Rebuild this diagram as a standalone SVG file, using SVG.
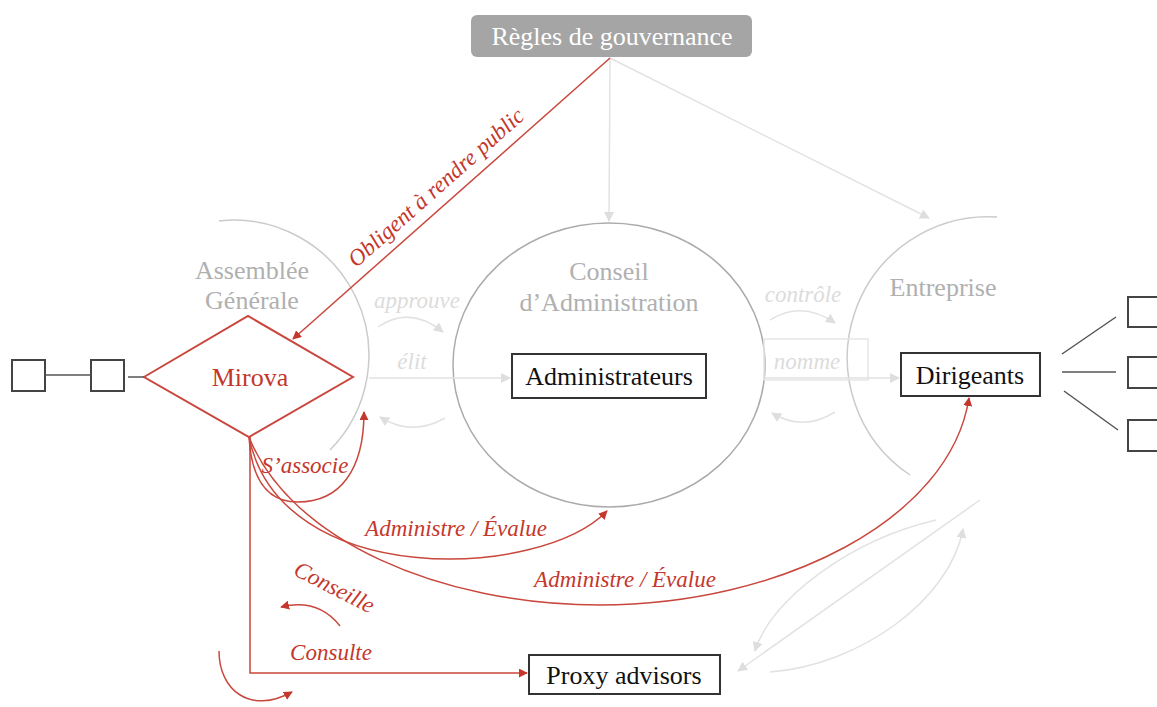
<svg xmlns="http://www.w3.org/2000/svg" width="1157" height="707" viewBox="0 0 1157 707">
<style>
text{font-family:"Liberation Serif","Times New Roman",serif}
.box{fill:#fff;stroke:#333;stroke-width:2}
.sm{fill:#fff;stroke:#444;stroke-width:2}
.lbl{font-size:26px;fill:#111;text-anchor:middle}
.gtitle{font-size:26px;fill:#b0b0b0;text-anchor:middle}
.glab{font-size:23px;font-style:italic;fill:#dcdcdc;text-anchor:middle}
.rlab{font-size:23px;font-style:italic;fill:#c4372c;text-anchor:middle}
.red{fill:none;stroke:#c9473d;stroke-width:1.5}
.gline{fill:none;stroke:#e2e2e2;stroke-width:1.5}
.arc{fill:none;stroke:#cbcbcb;stroke-width:1.5}
.dk{fill:none;stroke:#555;stroke-width:1.5}
</style>
<defs>
<marker id="ra" viewBox="0 0 10 10" refX="9" refY="5" markerWidth="9" markerHeight="9" markerUnits="userSpaceOnUse" orient="auto"><path d="M0,0L10,5L0,10z" fill="#c4372c"/></marker>
<marker id="ga" viewBox="0 0 10 10" refX="9" refY="5" markerWidth="10" markerHeight="10" markerUnits="userSpaceOnUse" orient="auto"><path d="M0,0L10,5L0,10z" fill="#dedede"/></marker>
</defs>

<g id="assemblee">
<path class="arc" d="M219,221 A135,135 0 0 1 330,450"/>
<text class="gtitle" x="252" y="279">Assemblée</text>
<text class="gtitle" x="252" y="309">Générale</text>
</g>
<g id="conseil">
<ellipse cx="609" cy="365" rx="156" ry="142" fill="none" stroke="#ababab" stroke-width="1.5"/>
<text class="gtitle" x="609" y="280">Conseil</text>
<text class="gtitle" x="609" y="311">d’Administration</text>
</g>
<g id="entreprise">
<path class="arc" d="M997,217 A141,141 0 0 0 910,475"/>
<text class="gtitle" x="943" y="296">Entreprise</text>
</g>

<g id="regles">
<rect x="471" y="15" width="281" height="42" rx="6" fill="#a5a5a5"/>
<text x="612" y="45" font-size="26" fill="#fff" text-anchor="middle">Règles de gouvernance</text>
</g>
<g id="mirova">
<polygon points="144,377 248,316 353,377 249,437" fill="#fff" stroke="#c9473d" stroke-width="2"/>
<text x="250" y="386" font-size="26" fill="#c4372c" text-anchor="middle">Mirova</text>
</g>
<g id="administrateurs">
<rect class="box" x="512" y="354" width="194" height="44"/>
<text class="lbl" x="609" y="385">Administrateurs</text>
</g>
<g id="dirigeants">
<rect class="box" x="901" y="353" width="139" height="43"/>
<text class="lbl" x="970" y="384">Dirigeants</text>
</g>
<g id="proxy">
<rect class="box" x="529" y="655" width="191" height="39"/>
<text class="lbl" x="624" y="684">Proxy advisors</text>
</g>
<g id="left1"><rect class="sm" x="12" y="360" width="33" height="31"/></g>
<g id="left2"><rect class="sm" x="91" y="360" width="33" height="31"/></g>
<g id="right1"><rect class="sm" x="1128" y="297" width="40" height="30"/></g>
<g id="right2"><rect class="sm" x="1128" y="357" width="40" height="31"/></g>
<g id="right3"><rect class="sm" x="1128" y="420" width="40" height="31"/></g>

<g id="connectors">
<line class="dk" x1="45" y1="375" x2="91" y2="375"/>
<line class="dk" x1="128" y1="377" x2="144" y2="377"/>
<line class="dk" x1="1062" y1="354" x2="1116" y2="317"/>
<line class="dk" x1="1062" y1="372" x2="1116" y2="372"/>
<line class="dk" x1="1064" y1="391" x2="1118" y2="430"/>

<line class="gline" x1="610" y1="58" x2="609" y2="221" marker-end="url(#ga)"/>
<line class="gline" x1="610" y1="58" x2="929" y2="218" marker-end="url(#ga)"/>
<line class="gline" x1="369" y1="378" x2="510" y2="378" marker-end="url(#ga)"/>
<path class="gline" d="M378,327 Q410,305 443,332" marker-end="url(#ga)"/>
<path class="gline" d="M445,418 Q412,437 380,417" marker-end="url(#ga)"/>
<text class="glab" x="417" y="308">approuve</text>
<text class="glab" x="412" y="369">élit</text>
<rect x="764" y="339" width="104" height="41" fill="none" stroke="#e6e6e6" stroke-width="1.5"/>
<line class="gline" x1="765" y1="378" x2="899" y2="378" marker-end="url(#ga)"/>
<path class="gline" d="M770,320 Q802,300 835,323" marker-end="url(#ga)"/>
<path class="gline" d="M835,412 Q803,432 772,413" marker-end="url(#ga)"/>
<text class="glab" x="803" y="302">contrôle</text>
<text class="glab" x="807" y="369">nomme</text>
<line class="gline" x1="980" y1="500" x2="738" y2="671" marker-end="url(#ga)"/>
<path class="gline" d="M936,520 C850,540 770,600 755,651" marker-end="url(#ga)"/>
<path class="gline" d="M770,672 C860,665 950,600 963,529" marker-end="url(#ga)"/>

<line class="red" x1="610" y1="58" x2="293" y2="339" marker-end="url(#ra)"/>
<text class="rlab" font-size="24" transform="translate(441,193) rotate(-41.6)">Obligent à rendre public</text>
<path class="red" d="M249,437 C252,490 275,502 298,502 C340,502 364,470 364,412" marker-end="url(#ra)"/>
<text class="rlab" x="305" y="473">S’associe</text>
<path class="red" d="M249,437 C280,590 540,580 607,511" marker-end="url(#ra)"/>
<text class="rlab" x="456" y="536">Administre / Évalue</text>
<path class="red" d="M249,437 C290,540 440,605 600,605 C780,605 950,520 969,398" marker-end="url(#ra)"/>
<text class="rlab" x="625" y="587">Administre / Évalue</text>
<polyline class="red" points="250,437 250,673 527,673" marker-end="url(#ra)"/>
<text class="rlab" x="331" y="660">Consulte</text>
<text class="rlab" transform="translate(331,594) rotate(27)">Conseille</text>
<path class="red" d="M340,626 Q318,598 281,607" marker-end="url(#ra)"/>
<path class="red" d="M219,651 C219,690 250,715 292,692" marker-end="url(#ra)"/>
</g>
</svg>
